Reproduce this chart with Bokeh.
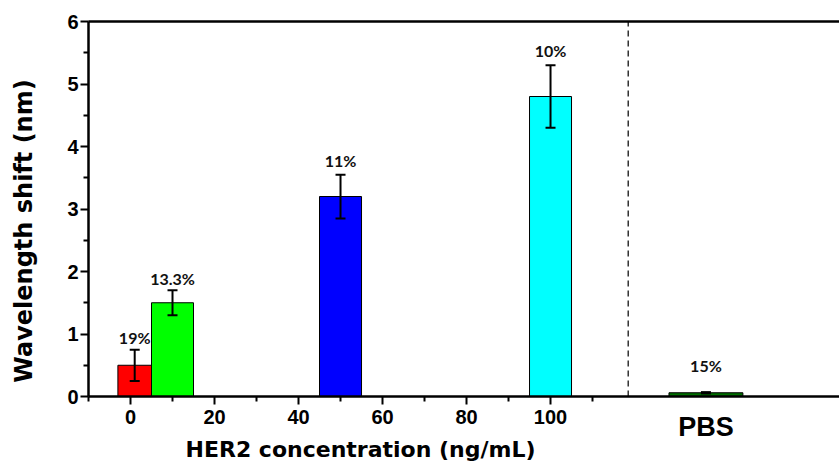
import math
from bokeh.plotting import figure
from bokeh.models import (ColumnDataSource, Range1d, FixedTicker, Whisker, TeeHead,
                          Label, LinearAxis)
from bokeh.core.properties import value
from bokeh.embed import file_html
from bokeh.resources import INLINE

# ---- data ----
concentrations = [1, 10, 50, 100]          # ng/mL
shift_values = [0.5, 1.5, 3.2, 4.8]        # nm
shift_errors = [0.25, 0.2, 0.35, 0.5]      # nm
cv_labels = ["19%", "13.3%", "11%", "10%"]
bar_colors = ["#ff0000", "#00ff00", "#0000ff", "#00ffff"]

pbs_value = 0.06
pbs_error = 0.01
pbs_label = "15%"
pbs_color = "#006f00"

x_ticks = [0, 20, 40, 60, 80, 100]
x_minor_ticks = [-10, 10, 30, 50, 70, 90, 110]
y_ticks = [0, 1, 2, 3, 4, 5, 6]
y_minor_ticks = [0.5, 1.5, 2.5, 3.5, 4.5, 5.5]

# ---- layout constants ----
X_MIN, X_MAX = -10, 168.8
Y_MIN, Y_MAX = 0, 6
PBS_X = 137
PBS_WIDTH = 17.6
DIVIDER_X = 118.5
bar_widths = [8, 10, 10, 10]
label_gaps = [12, 12, 14, 15]

BOLD = "Liberation Sans"
TITLE_FONT = "DejaVu Sans"

# the frame covers the whole canvas; axes sit at fixed locations inside it
p = figure(width=839, height=461,
           x_range=Range1d(X_MIN - 88 / 4.2, X_MAX),
           y_range=Range1d(Y_MIN - 65 / 62.5, Y_MAX + 21 / 62.5),
           output_backend="svg", toolbar_location=None,
           x_axis_location=None, y_axis_location=None,
           min_border=0)
p.outline_line_color = None
p.grid.visible = False
p.background_fill_color = "white"
p.border_fill_color = "white"

src = ColumnDataSource(dict(
    x=concentrations + [PBS_X],
    top=shift_values + [pbs_value],
    w=bar_widths + [PBS_WIDTH],
    color=bar_colors + [pbs_color],
    upper=[v + e for v, e in zip(shift_values, shift_errors)] + [pbs_value + pbs_error],
    lower=[v - e for v, e in zip(shift_values, shift_errors)] + [pbs_value - pbs_error],
    label=cv_labels + [pbs_label],
    gap=[-g for g in label_gaps] + [-27],
))

p.vbar(x="x", top="top", bottom=0, width="w", fill_color="color", line_color="black",
       line_width=1, source=src)

p.add_layout(Whisker(source=src, base="x", upper="upper", lower="lower", level="overlay",
                     line_width=2, line_color="black",
                     upper_head=TeeHead(size=10, line_width=2, line_color="black"),
                     lower_head=TeeHead(size=10, line_width=2, line_color="black")))

p.text(x="x", y="upper", text="label", y_offset="gap", source=src,
       text_font=value("Lato"), text_font_style="bold", text_font_size="16px",
       text_align="center", text_baseline="middle", text_color="#111111")

# dashed divider between the concentration series and PBS
p.segment(x0=[DIVIDER_X], y0=[Y_MIN], x1=[DIVIDER_X], y1=[Y_MAX], line_color="#333333",
          line_width=1.5, line_dash="6 4")

# axes
xa = LinearAxis(ticker=FixedTicker(ticks=x_ticks, minor_ticks=x_minor_ticks),
                fixed_location=Y_MIN, bounds=(X_MIN, X_MAX))
ya = LinearAxis(ticker=FixedTicker(ticks=y_ticks, minor_ticks=y_minor_ticks),
                fixed_location=X_MIN, bounds=(Y_MIN, Y_MAX))
for ax in (xa, ya):
    ax.axis_line_width = 2.5
    ax.axis_line_color = "black"
    ax.major_tick_line_width = 2
    ax.minor_tick_line_width = 2
    ax.major_tick_in = 0
    ax.minor_tick_in = 0
    ax.major_tick_out = 8
    ax.minor_tick_out = 5
    ax.major_label_text_font = BOLD
    ax.major_label_text_font_style = "bold"
    ax.major_label_text_font_size = "20px"
    ax.major_label_text_color = "black"
ya.major_label_standoff = 2
xa.major_label_standoff = 5
p.add_layout(xa, "below")
p.add_layout(ya, "left")

top_axis = LinearAxis(ticker=FixedTicker(ticks=[]), fixed_location=Y_MAX, bounds=(X_MIN, X_MAX),
                      axis_line_width=2.5, major_label_text_font_size="0px",
                      major_tick_out=0, minor_tick_out=0)
p.add_layout(top_axis, "above")

# axis titles and PBS label
p.add_layout(Label(x=X_MIN, y=Y_MIN, x_offset=97, y_offset=-53, text="HER2 concentration (ng/mL)",
                   text_font=TITLE_FONT, text_font_style="bold", text_font_size="22px",
                   text_align="left", text_baseline="middle", text_color="black"))
p.add_layout(Label(x=X_MIN, y=(Y_MIN + Y_MAX) / 2, x_offset=-65, y_offset=-22, angle=math.pi / 2,
                   text="Wavelength shift (nm)",
                   text_font=TITLE_FONT, text_font_style="bold", text_font_size="24px",
                   text_align="center", text_baseline="middle", text_color="black"))
p.add_layout(Label(x=PBS_X, y=Y_MIN, y_offset=-30, text="PBS",
                   text_font=BOLD, text_font_style="bold", text_font_size="27px",
                   text_align="center", text_baseline="middle", text_color="black"))

open("out.html", "w").write(file_html(p, INLINE))
